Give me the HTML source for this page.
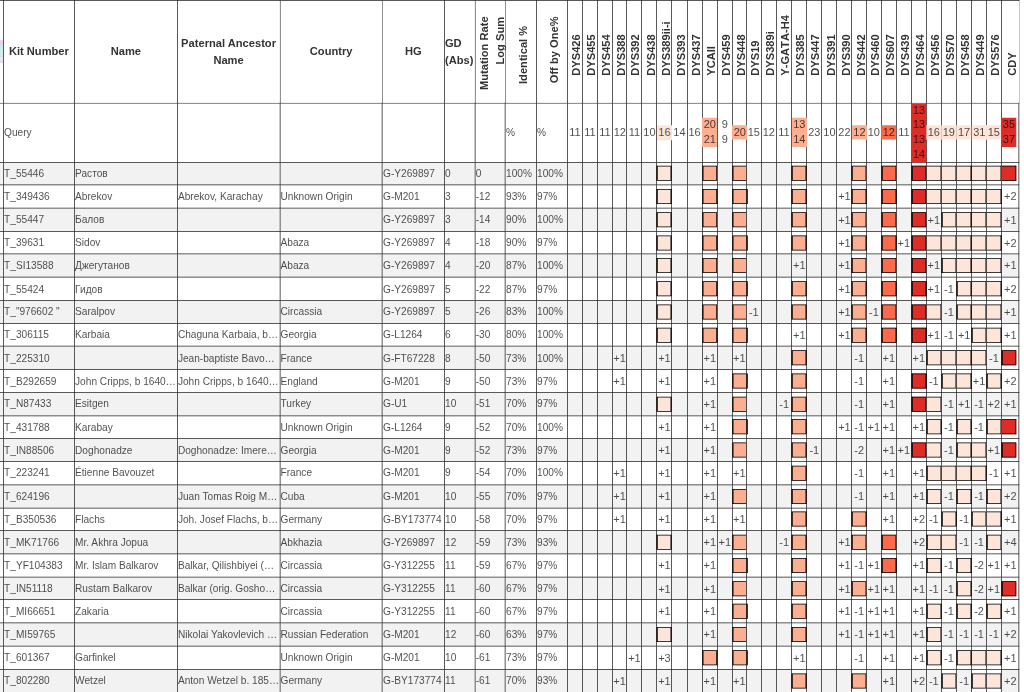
<!DOCTYPE html>
<html lang="en"><head><meta charset="utf-8">
<title>Y-STR match table</title>
<style>
html,body{margin:0;padding:0;background:#fff;}
body{width:1024px;height:692px;overflow:hidden;position:relative;font-family:"Liberation Sans",Arial,sans-serif;}
#wrap{position:absolute;left:0;top:0;width:1365.33px;height:922.67px;transform:scale(0.75);transform-origin:0 0;}
#edge{position:absolute;left:0;top:53.33px;width:3.87px;height:30.67px;z-index:2;
 background:linear-gradient(180deg,#ecd2f0 0,#ecd2f0 28%,#c9f1ef 28%,#c9f1ef 70%,#e2daf8 70%,#e2daf8 76%,#fbe2da 76%,#fbe2da 87%,#d9ecd9 87%,#d9ecd9 96%,#e2daf8 96%);}
table{position:absolute;left:-16.000px;top:0;width:1374.700px;border-collapse:collapse;table-layout:fixed;
 color:rgba(0,0,0,.7);font-size:13.500px;line-height:normal;}
th,td{border:1px solid #222;padding:0 0 0 0.4px;margin:0;overflow:hidden;white-space:nowrap;text-overflow:ellipsis;
 text-align:left;vertical-align:middle;font-weight:normal;box-sizing:border-box;}
thead th{font-weight:bold;font-size:14.850px;line-height:22.133px;color:#333;text-align:center;
 white-space:normal;background:#fff;position:relative;overflow:visible;height:136.667px;}
thead th{padding:0 1px 1px 1px;}
thead th.t2{padding-bottom:0.4px;}
thead th.l{text-align:left;padding-left:0.3px;}
thead th.r{padding:0;}
.rot{position:absolute;transform-origin:0 0;transform:rotate(-90deg);white-space:nowrap;line-height:21.333px;
 text-align:right;font-kerning:none;}
tr.q td{height:76.133px;background:#fff;}
tr.d td{height:30.743px;}
tr.g td{background:#f2f2f2;}
tbody tr:last-child td{border-bottom:0;height:32.743px;vertical-align:top;padding-top:7.3px;}
tbody tr:last-child td.m{padding-top:7.4px;}
tbody tr:last-child td.b{padding-top:5.2px;}
td.m{padding:0;text-align:center;font-size:14.667px;overflow:visible;}
tr.q td.m{line-height:19.467px;}
tr.q td.m div{width:19px;}
tr.q td.m div[class]{width:19.9px;margin-left:-0.45px;position:relative;}
td.b{background:#fff !important;}
td.b i{display:block;box-sizing:border-box;width:21px;height:20px;margin-left:-1px;border:1px solid #000;border-left-width:2px;border-right-width:2px;}
td.b i.n{width:20px;margin-left:0;border-left-width:0;}
td.b i.c{width:20.3px;border-right-width:1px;}
td.b i.c.n{width:19.3px;}
.h1{background:#fee5d9;}.h2{background:#fcae91;}.h3{background:#fb6a4a;}.h4{background:#de2d26;}
</style></head><body>
<div id="wrap">
<div id="edge"></div>
<table>
<colgroup><col style="width:20.033px"><col style="width:94.667px"><col style="width:137.133px"><col style="width:136.867px"><col style="width:136.667px"><col style="width:82.667px"><col style="width:40.800px"><col style="width:40.533px"><col style="width:41.333px"><col style="width:41.333px"><col style="width:20.000px"><col style="width:20.000px"><col style="width:20.000px"><col style="width:19.333px"><col style="width:20.200px"><col style="width:20.000px"><col style="width:19.933px"><col style="width:20.133px"><col style="width:20.400px"><col style="width:20.000px"><col style="width:20.000px"><col style="width:18.733px"><col style="width:19.933px"><col style="width:20.267px"><col style="width:20.333px"><col style="width:20.067px"><col style="width:20.200px"><col style="width:20.000px"><col style="width:20.067px"><col style="width:19.200px"><col style="width:20.000px"><col style="width:20.000px"><col style="width:20.000px"><col style="width:20.000px"><col style="width:19.933px"><col style="width:20.333px"><col style="width:20.267px"><col style="width:19.467px"><col style="width:20.080px"><col style="width:23.787px"></colgroup>
<thead><tr><th></th><th>Kit Number</th><th>Name</th><th class="t2">Paternal Ancestor Name</th><th>Country</th><th>HG</th><th class="l t2">GD (Abs)</th><th class="r"><span class="rot" style="left:1.27px;top:118.53px">Mutation Rate</span><span class="rot" style="left:22.80px;top:85.13px">Log Sum</span></th><th class="r"><span class="rot" style="left:13.34px;top:110.93px;">Identical %</span></th><th class="r"><span class="rot" style="left:13.07px;top:109.60px;">Off by One%</span></th><th class="r"><span class="rot" style="left:1.20px;top:100.40px;">DYS426</span></th><th class="r"><span class="rot" style="left:1.20px;top:100.40px;">DYS455</span></th><th class="r"><span class="rot" style="left:1.20px;top:100.40px;">DYS454</span></th><th class="r"><span class="rot" style="left:1.20px;top:100.40px;">DYS388</span></th><th class="r"><span class="rot" style="left:1.20px;top:100.40px;">DYS392</span></th><th class="r"><span class="rot" style="left:1.20px;top:100.40px;">DYS438</span></th><th class="r"><span class="rot" style="left:1.20px;top:100.40px;">DYS389ii-i</span></th><th class="r"><span class="rot" style="left:1.20px;top:100.40px;">DYS393</span></th><th class="r"><span class="rot" style="left:1.20px;top:100.40px;">DYS437</span></th><th class="r"><span class="rot" style="left:1.20px;top:100.40px;">YCAII</span></th><th class="r"><span class="rot" style="left:1.20px;top:100.40px;">DYS459</span></th><th class="r"><span class="rot" style="left:1.20px;top:100.40px;">DYS448</span></th><th class="r"><span class="rot" style="left:1.20px;top:100.40px;">DYS19</span></th><th class="r"><span class="rot" style="left:1.20px;top:100.40px;">DYS389i</span></th><th class="r"><span class="rot" style="left:1.20px;top:100.40px;">Y-GATA-H4</span></th><th class="r"><span class="rot" style="left:1.20px;top:100.40px;">DYS385</span></th><th class="r"><span class="rot" style="left:1.20px;top:100.40px;">DYS447</span></th><th class="r"><span class="rot" style="left:1.20px;top:100.40px;">DYS391</span></th><th class="r"><span class="rot" style="left:1.20px;top:100.40px;">DYS390</span></th><th class="r"><span class="rot" style="left:1.20px;top:100.40px;">DYS442</span></th><th class="r"><span class="rot" style="left:1.20px;top:100.40px;">DYS460</span></th><th class="r"><span class="rot" style="left:1.20px;top:100.40px;">DYS607</span></th><th class="r"><span class="rot" style="left:1.20px;top:100.40px;">DYS439</span></th><th class="r"><span class="rot" style="left:1.20px;top:100.40px;">DYS464</span></th><th class="r"><span class="rot" style="left:1.20px;top:100.40px;">DYS456</span></th><th class="r"><span class="rot" style="left:1.20px;top:100.40px;">DYS570</span></th><th class="r"><span class="rot" style="left:1.20px;top:100.40px;">DYS458</span></th><th class="r"><span class="rot" style="left:1.20px;top:100.40px;">DYS449</span></th><th class="r"><span class="rot" style="left:1.20px;top:100.40px;">DYS576</span></th><th class="r"><span class="rot" style="left:3.74px;top:100.40px;">CDY</span></th></tr></thead>
<tbody>
<tr class="q"><td></td><td>Query</td><td></td><td></td><td></td><td></td><td></td><td></td><td>%</td><td>%</td><td class="m"><div>11</div></td><td class="m"><div>11</div></td><td class="m"><div>11</div></td><td class="m"><div>12</div></td><td class="m"><div>11</div></td><td class="m"><div>10</div></td><td class="m"><div class="h1">16</div></td><td class="m"><div>14</div></td><td class="m"><div>16</div></td><td class="m"><div class="h2">20<br>21</div></td><td class="m"><div>9<br>9</div></td><td class="m"><div class="h2">20</div></td><td class="m"><div>15</div></td><td class="m"><div>12</div></td><td class="m"><div>11</div></td><td class="m"><div class="h2">13<br>14</div></td><td class="m"><div>23</div></td><td class="m"><div>10</div></td><td class="m"><div>22</div></td><td class="m"><div class="h2">12</div></td><td class="m"><div>10</div></td><td class="m"><div class="h3">12</div></td><td class="m"><div>11</div></td><td class="m"><div class="h4">13<br>13<br>13<br>14</div></td><td class="m"><div class="h1">16</div></td><td class="m"><div class="h1">19</div></td><td class="m"><div class="h1">17</div></td><td class="m"><div class="h1">31</div></td><td class="m"><div class="h1">15</div></td><td class="m"><div class="h4">35<br>37</div></td></tr>
<tr class="d g"><td></td><td>T_55446</td><td>Растов</td><td></td><td></td><td>G-Y269897</td><td>0</td><td>0</td><td>100%</td><td>100%</td><td class="m"></td><td class="m"></td><td class="m"></td><td class="m"></td><td class="m"></td><td class="m"></td><td class="m b"><i class="h1"></i></td><td class="m"></td><td class="m"></td><td class="m b"><i class="h2"></i></td><td class="m"></td><td class="m b"><i class="h2"></i></td><td class="m"></td><td class="m"></td><td class="m"></td><td class="m b"><i class="h2"></i></td><td class="m"></td><td class="m"></td><td class="m"></td><td class="m b"><i class="h2"></i></td><td class="m"></td><td class="m b"><i class="h3"></i></td><td class="m"></td><td class="m b"><i class="h4"></i></td><td class="m b"><i class="h1 n"></i></td><td class="m b"><i class="h1 n"></i></td><td class="m b"><i class="h1 n"></i></td><td class="m b"><i class="h1 n"></i></td><td class="m b"><i class="h1 n"></i></td><td class="m b"><i class="h4 n c"></i></td></tr>
<tr class="d"><td></td><td>T_349436</td><td>Abrekov</td><td>Abrekov, Karachay</td><td>Unknown Origin</td><td>G-M201</td><td>3</td><td>-12</td><td>93%</td><td>97%</td><td class="m"></td><td class="m"></td><td class="m"></td><td class="m"></td><td class="m"></td><td class="m"></td><td class="m b"><i class="h1"></i></td><td class="m"></td><td class="m"></td><td class="m b"><i class="h2"></i></td><td class="m"></td><td class="m b"><i class="h2"></i></td><td class="m"></td><td class="m"></td><td class="m"></td><td class="m b"><i class="h2"></i></td><td class="m"></td><td class="m"></td><td class="m">+1</td><td class="m b"><i class="h2"></i></td><td class="m"></td><td class="m b"><i class="h3"></i></td><td class="m"></td><td class="m b"><i class="h4"></i></td><td class="m b"><i class="h1 n"></i></td><td class="m b"><i class="h1 n"></i></td><td class="m b"><i class="h1 n"></i></td><td class="m b"><i class="h1 n"></i></td><td class="m b"><i class="h1 n"></i></td><td class="m">+2</td></tr>
<tr class="d g"><td></td><td>T_55447</td><td>Балов</td><td></td><td></td><td>G-Y269897</td><td>3</td><td>-14</td><td>90%</td><td>100%</td><td class="m"></td><td class="m"></td><td class="m"></td><td class="m"></td><td class="m"></td><td class="m"></td><td class="m b"><i class="h1"></i></td><td class="m"></td><td class="m"></td><td class="m b"><i class="h2"></i></td><td class="m"></td><td class="m b"><i class="h2"></i></td><td class="m"></td><td class="m"></td><td class="m"></td><td class="m b"><i class="h2"></i></td><td class="m"></td><td class="m"></td><td class="m">+1</td><td class="m b"><i class="h2"></i></td><td class="m"></td><td class="m b"><i class="h3"></i></td><td class="m"></td><td class="m b"><i class="h4"></i></td><td class="m">+1</td><td class="m b"><i class="h1"></i></td><td class="m b"><i class="h1 n"></i></td><td class="m b"><i class="h1 n"></i></td><td class="m b"><i class="h1 n"></i></td><td class="m">+1</td></tr>
<tr class="d"><td></td><td>T_39631</td><td>Sidov</td><td></td><td>Abaza</td><td>G-Y269897</td><td>4</td><td>-18</td><td>90%</td><td>97%</td><td class="m"></td><td class="m"></td><td class="m"></td><td class="m"></td><td class="m"></td><td class="m"></td><td class="m b"><i class="h1"></i></td><td class="m"></td><td class="m"></td><td class="m b"><i class="h2"></i></td><td class="m"></td><td class="m b"><i class="h2"></i></td><td class="m"></td><td class="m"></td><td class="m"></td><td class="m b"><i class="h2"></i></td><td class="m"></td><td class="m"></td><td class="m">+1</td><td class="m b"><i class="h2"></i></td><td class="m"></td><td class="m b"><i class="h3"></i></td><td class="m">+1</td><td class="m b"><i class="h4"></i></td><td class="m b"><i class="h1 n"></i></td><td class="m b"><i class="h1 n"></i></td><td class="m b"><i class="h1 n"></i></td><td class="m b"><i class="h1 n"></i></td><td class="m b"><i class="h1 n"></i></td><td class="m">+2</td></tr>
<tr class="d g"><td></td><td>T_SI13588</td><td>Джегутанов</td><td></td><td>Abaza</td><td>G-Y269897</td><td>4</td><td>-20</td><td>87%</td><td>100%</td><td class="m"></td><td class="m"></td><td class="m"></td><td class="m"></td><td class="m"></td><td class="m"></td><td class="m b"><i class="h1"></i></td><td class="m"></td><td class="m"></td><td class="m b"><i class="h2"></i></td><td class="m"></td><td class="m b"><i class="h2"></i></td><td class="m"></td><td class="m"></td><td class="m"></td><td class="m">+1</td><td class="m"></td><td class="m"></td><td class="m">+1</td><td class="m b"><i class="h2"></i></td><td class="m"></td><td class="m b"><i class="h3"></i></td><td class="m"></td><td class="m b"><i class="h4"></i></td><td class="m">+1</td><td class="m b"><i class="h1"></i></td><td class="m b"><i class="h1 n"></i></td><td class="m b"><i class="h1 n"></i></td><td class="m b"><i class="h1 n"></i></td><td class="m">+1</td></tr>
<tr class="d"><td></td><td>T_55424</td><td>Гидов</td><td></td><td></td><td>G-Y269897</td><td>5</td><td>-22</td><td>87%</td><td>97%</td><td class="m"></td><td class="m"></td><td class="m"></td><td class="m"></td><td class="m"></td><td class="m"></td><td class="m b"><i class="h1"></i></td><td class="m"></td><td class="m"></td><td class="m b"><i class="h2"></i></td><td class="m"></td><td class="m b"><i class="h2"></i></td><td class="m"></td><td class="m"></td><td class="m"></td><td class="m b"><i class="h2"></i></td><td class="m"></td><td class="m"></td><td class="m">+1</td><td class="m b"><i class="h2"></i></td><td class="m"></td><td class="m b"><i class="h3"></i></td><td class="m"></td><td class="m b"><i class="h4"></i></td><td class="m">+1</td><td class="m">-1</td><td class="m b"><i class="h1"></i></td><td class="m b"><i class="h1 n"></i></td><td class="m b"><i class="h1 n"></i></td><td class="m">+2</td></tr>
<tr class="d g"><td></td><td>T_"976602 "</td><td>Saralpov</td><td></td><td>Circassia</td><td>G-Y269897</td><td>5</td><td>-26</td><td>83%</td><td>100%</td><td class="m"></td><td class="m"></td><td class="m"></td><td class="m"></td><td class="m"></td><td class="m"></td><td class="m b"><i class="h1"></i></td><td class="m"></td><td class="m"></td><td class="m b"><i class="h2"></i></td><td class="m"></td><td class="m b"><i class="h2"></i></td><td class="m">-1</td><td class="m"></td><td class="m"></td><td class="m b"><i class="h2"></i></td><td class="m"></td><td class="m"></td><td class="m">+1</td><td class="m b"><i class="h2"></i></td><td class="m">-1</td><td class="m b"><i class="h3"></i></td><td class="m"></td><td class="m b"><i class="h4"></i></td><td class="m b"><i class="h1 n"></i></td><td class="m">-1</td><td class="m b"><i class="h1"></i></td><td class="m b"><i class="h1 n"></i></td><td class="m b"><i class="h1 n"></i></td><td class="m">+1</td></tr>
<tr class="d"><td></td><td>T_306115</td><td>Karbaia</td><td>Chaguna Karbaia, b. 1790, Samegrelo</td><td>Georgia</td><td>G-L1264</td><td>6</td><td>-30</td><td>80%</td><td>100%</td><td class="m"></td><td class="m"></td><td class="m"></td><td class="m"></td><td class="m"></td><td class="m"></td><td class="m b"><i class="h1"></i></td><td class="m"></td><td class="m"></td><td class="m b"><i class="h2"></i></td><td class="m"></td><td class="m b"><i class="h2"></i></td><td class="m"></td><td class="m"></td><td class="m"></td><td class="m">+1</td><td class="m"></td><td class="m"></td><td class="m">+1</td><td class="m b"><i class="h2"></i></td><td class="m"></td><td class="m b"><i class="h3"></i></td><td class="m"></td><td class="m b"><i class="h4"></i></td><td class="m">+1</td><td class="m">-1</td><td class="m">+1</td><td class="m b"><i class="h1"></i></td><td class="m b"><i class="h1 n"></i></td><td class="m">+1</td></tr>
<tr class="d g"><td></td><td>T_225310</td><td></td><td>Jean-baptiste Bavouzet, b. 1750</td><td>France</td><td>G-FT67228</td><td>8</td><td>-50</td><td>73%</td><td>100%</td><td class="m"></td><td class="m"></td><td class="m"></td><td class="m">+1</td><td class="m"></td><td class="m"></td><td class="m">+1</td><td class="m"></td><td class="m"></td><td class="m">+1</td><td class="m"></td><td class="m">+1</td><td class="m"></td><td class="m"></td><td class="m"></td><td class="m b"><i class="h2"></i></td><td class="m"></td><td class="m"></td><td class="m"></td><td class="m">-1</td><td class="m"></td><td class="m">+1</td><td class="m"></td><td class="m">+1</td><td class="m b"><i class="h1"></i></td><td class="m b"><i class="h1 n"></i></td><td class="m b"><i class="h1 n"></i></td><td class="m b"><i class="h1 n"></i></td><td class="m">-1</td><td class="m b"><i class="h4 c"></i></td></tr>
<tr class="d"><td></td><td>T_B292659</td><td>John Cripps, b 1640, Kent</td><td>John Cripps, b 1640, Kent</td><td>England</td><td>G-M201</td><td>9</td><td>-50</td><td>73%</td><td>97%</td><td class="m"></td><td class="m"></td><td class="m"></td><td class="m">+1</td><td class="m"></td><td class="m"></td><td class="m">+1</td><td class="m"></td><td class="m"></td><td class="m">+1</td><td class="m"></td><td class="m b"><i class="h2"></i></td><td class="m"></td><td class="m"></td><td class="m"></td><td class="m b"><i class="h2"></i></td><td class="m"></td><td class="m"></td><td class="m"></td><td class="m">-1</td><td class="m"></td><td class="m">+1</td><td class="m"></td><td class="m b"><i class="h4"></i></td><td class="m">-1</td><td class="m b"><i class="h1"></i></td><td class="m b"><i class="h1 n"></i></td><td class="m">+1</td><td class="m b"><i class="h1"></i></td><td class="m">+2</td></tr>
<tr class="d g"><td></td><td>T_N87433</td><td>Esitgen</td><td></td><td>Turkey</td><td>G-U1</td><td>10</td><td>-51</td><td>70%</td><td>97%</td><td class="m"></td><td class="m"></td><td class="m"></td><td class="m"></td><td class="m"></td><td class="m"></td><td class="m b"><i class="h1"></i></td><td class="m"></td><td class="m"></td><td class="m">+1</td><td class="m"></td><td class="m b"><i class="h2"></i></td><td class="m"></td><td class="m"></td><td class="m">-1</td><td class="m b"><i class="h2"></i></td><td class="m"></td><td class="m"></td><td class="m"></td><td class="m">-1</td><td class="m"></td><td class="m">+1</td><td class="m"></td><td class="m b"><i class="h4"></i></td><td class="m b"><i class="h1 n"></i></td><td class="m">-1</td><td class="m">+1</td><td class="m">-1</td><td class="m">+2</td><td class="m">+1</td></tr>
<tr class="d"><td></td><td>T_431788</td><td>Karabay</td><td></td><td>Unknown Origin</td><td>G-L1264</td><td>9</td><td>-52</td><td>70%</td><td>100%</td><td class="m"></td><td class="m"></td><td class="m"></td><td class="m"></td><td class="m"></td><td class="m"></td><td class="m">+1</td><td class="m"></td><td class="m"></td><td class="m">+1</td><td class="m"></td><td class="m b"><i class="h2"></i></td><td class="m"></td><td class="m"></td><td class="m"></td><td class="m b"><i class="h2"></i></td><td class="m"></td><td class="m"></td><td class="m">+1</td><td class="m">-1</td><td class="m">+1</td><td class="m">+1</td><td class="m"></td><td class="m">+1</td><td class="m b"><i class="h1"></i></td><td class="m">-1</td><td class="m b"><i class="h1"></i></td><td class="m">-1</td><td class="m b"><i class="h1"></i></td><td class="m b"><i class="h4 n c"></i></td></tr>
<tr class="d g"><td></td><td>T_IN88506</td><td>Doghonadze</td><td>Doghonadze: Imereti, Georgia</td><td>Georgia</td><td>G-M201</td><td>9</td><td>-52</td><td>73%</td><td>97%</td><td class="m"></td><td class="m"></td><td class="m"></td><td class="m"></td><td class="m"></td><td class="m"></td><td class="m">+1</td><td class="m"></td><td class="m"></td><td class="m">+1</td><td class="m"></td><td class="m b"><i class="h2"></i></td><td class="m"></td><td class="m"></td><td class="m"></td><td class="m b"><i class="h2"></i></td><td class="m">-1</td><td class="m"></td><td class="m"></td><td class="m">-2</td><td class="m"></td><td class="m">+1</td><td class="m">+1</td><td class="m b"><i class="h4"></i></td><td class="m b"><i class="h1 n"></i></td><td class="m">-1</td><td class="m b"><i class="h1"></i></td><td class="m b"><i class="h1 n"></i></td><td class="m">+1</td><td class="m b"><i class="h4 c"></i></td></tr>
<tr class="d"><td></td><td>T_223241</td><td>Étienne Bavouzet</td><td></td><td>France</td><td>G-M201</td><td>9</td><td>-54</td><td>70%</td><td>100%</td><td class="m"></td><td class="m"></td><td class="m"></td><td class="m">+1</td><td class="m"></td><td class="m"></td><td class="m">+1</td><td class="m"></td><td class="m"></td><td class="m">+1</td><td class="m"></td><td class="m">+1</td><td class="m"></td><td class="m"></td><td class="m"></td><td class="m b"><i class="h2"></i></td><td class="m"></td><td class="m"></td><td class="m"></td><td class="m">-1</td><td class="m"></td><td class="m">+1</td><td class="m"></td><td class="m">+1</td><td class="m b"><i class="h1"></i></td><td class="m b"><i class="h1 n"></i></td><td class="m b"><i class="h1 n"></i></td><td class="m b"><i class="h1 n"></i></td><td class="m">-1</td><td class="m">+1</td></tr>
<tr class="d g"><td></td><td>T_624196</td><td></td><td>Juan Tomas Roig Marti, b. 1820</td><td>Cuba</td><td>G-M201</td><td>10</td><td>-55</td><td>70%</td><td>97%</td><td class="m"></td><td class="m"></td><td class="m"></td><td class="m">+1</td><td class="m"></td><td class="m"></td><td class="m">+1</td><td class="m"></td><td class="m"></td><td class="m">+1</td><td class="m"></td><td class="m b"><i class="h2"></i></td><td class="m"></td><td class="m"></td><td class="m"></td><td class="m b"><i class="h2"></i></td><td class="m"></td><td class="m"></td><td class="m"></td><td class="m">-1</td><td class="m"></td><td class="m">+1</td><td class="m"></td><td class="m">+1</td><td class="m b"><i class="h1"></i></td><td class="m">-1</td><td class="m b"><i class="h1"></i></td><td class="m">-1</td><td class="m b"><i class="h1"></i></td><td class="m">+2</td></tr>
<tr class="d"><td></td><td>T_B350536</td><td>Flachs</td><td>Joh. Josef Flachs, b. 1769</td><td>Germany</td><td>G-BY173774</td><td>10</td><td>-58</td><td>70%</td><td>97%</td><td class="m"></td><td class="m"></td><td class="m"></td><td class="m">+1</td><td class="m"></td><td class="m"></td><td class="m">+1</td><td class="m"></td><td class="m"></td><td class="m">+1</td><td class="m"></td><td class="m">+1</td><td class="m"></td><td class="m"></td><td class="m"></td><td class="m b"><i class="h2"></i></td><td class="m"></td><td class="m"></td><td class="m"></td><td class="m b"><i class="h2"></i></td><td class="m"></td><td class="m">+1</td><td class="m"></td><td class="m">+2</td><td class="m">-1</td><td class="m b"><i class="h1"></i></td><td class="m">-1</td><td class="m b"><i class="h1"></i></td><td class="m b"><i class="h1 n"></i></td><td class="m">+1</td></tr>
<tr class="d g"><td></td><td>T_MK71766</td><td>Mr. Akhra Jopua</td><td></td><td>Abkhazia</td><td>G-Y269897</td><td>12</td><td>-59</td><td>73%</td><td>93%</td><td class="m"></td><td class="m"></td><td class="m"></td><td class="m"></td><td class="m"></td><td class="m"></td><td class="m b"><i class="h1"></i></td><td class="m"></td><td class="m"></td><td class="m">+1</td><td class="m">+1</td><td class="m b"><i class="h2"></i></td><td class="m"></td><td class="m"></td><td class="m">-1</td><td class="m b"><i class="h2"></i></td><td class="m"></td><td class="m"></td><td class="m">+1</td><td class="m b"><i class="h2"></i></td><td class="m"></td><td class="m b"><i class="h3"></i></td><td class="m"></td><td class="m">+2</td><td class="m b"><i class="h1"></i></td><td class="m b"><i class="h1 n"></i></td><td class="m">-1</td><td class="m">-1</td><td class="m b"><i class="h1"></i></td><td class="m">+4</td></tr>
<tr class="d"><td></td><td>T_YF104383</td><td>Mr. Islam Balkarov</td><td>Balkar, Qilishbiyei (Kabarda)</td><td>Circassia</td><td>G-Y312255</td><td>11</td><td>-59</td><td>67%</td><td>97%</td><td class="m"></td><td class="m"></td><td class="m"></td><td class="m"></td><td class="m"></td><td class="m"></td><td class="m">+1</td><td class="m"></td><td class="m"></td><td class="m">+1</td><td class="m"></td><td class="m b"><i class="h2"></i></td><td class="m"></td><td class="m"></td><td class="m"></td><td class="m b"><i class="h2"></i></td><td class="m"></td><td class="m"></td><td class="m">+1</td><td class="m">-1</td><td class="m">+1</td><td class="m b"><i class="h3"></i></td><td class="m"></td><td class="m">+1</td><td class="m b"><i class="h1"></i></td><td class="m">-1</td><td class="m b"><i class="h1"></i></td><td class="m">-2</td><td class="m">+1</td><td class="m">+1</td></tr>
<tr class="d g"><td></td><td>T_IN51118</td><td>Rustam Balkarov</td><td>Balkar (orig. Goshomakhov)</td><td>Circassia</td><td>G-Y312255</td><td>11</td><td>-60</td><td>67%</td><td>97%</td><td class="m"></td><td class="m"></td><td class="m"></td><td class="m"></td><td class="m"></td><td class="m"></td><td class="m">+1</td><td class="m"></td><td class="m"></td><td class="m">+1</td><td class="m"></td><td class="m b"><i class="h2"></i></td><td class="m"></td><td class="m"></td><td class="m"></td><td class="m b"><i class="h2"></i></td><td class="m"></td><td class="m"></td><td class="m">+1</td><td class="m b"><i class="h2"></i></td><td class="m">+1</td><td class="m">+1</td><td class="m"></td><td class="m">+1</td><td class="m">-1</td><td class="m">-1</td><td class="m b"><i class="h1"></i></td><td class="m">-2</td><td class="m">+1</td><td class="m b"><i class="h4 c"></i></td></tr>
<tr class="d"><td></td><td>T_MI66651</td><td>Zakaria</td><td></td><td>Circassia</td><td>G-Y312255</td><td>11</td><td>-60</td><td>67%</td><td>97%</td><td class="m"></td><td class="m"></td><td class="m"></td><td class="m"></td><td class="m"></td><td class="m"></td><td class="m">+1</td><td class="m"></td><td class="m"></td><td class="m">+1</td><td class="m"></td><td class="m b"><i class="h2"></i></td><td class="m"></td><td class="m"></td><td class="m"></td><td class="m b"><i class="h2"></i></td><td class="m"></td><td class="m"></td><td class="m">+1</td><td class="m">-1</td><td class="m">+1</td><td class="m">+1</td><td class="m"></td><td class="m">+1</td><td class="m b"><i class="h1"></i></td><td class="m">-1</td><td class="m b"><i class="h1"></i></td><td class="m">-2</td><td class="m b"><i class="h1"></i></td><td class="m">+1</td></tr>
<tr class="d g"><td></td><td>T_MI59765</td><td></td><td>Nikolai Yakovlevich Makarov</td><td>Russian Federation</td><td>G-M201</td><td>12</td><td>-60</td><td>63%</td><td>97%</td><td class="m"></td><td class="m"></td><td class="m"></td><td class="m"></td><td class="m"></td><td class="m"></td><td class="m b"><i class="h1"></i></td><td class="m"></td><td class="m"></td><td class="m">+1</td><td class="m"></td><td class="m b"><i class="h2"></i></td><td class="m"></td><td class="m"></td><td class="m"></td><td class="m b"><i class="h2"></i></td><td class="m"></td><td class="m"></td><td class="m">+1</td><td class="m">-1</td><td class="m">+1</td><td class="m">+1</td><td class="m"></td><td class="m">+1</td><td class="m b"><i class="h1"></i></td><td class="m">-1</td><td class="m">-1</td><td class="m">-1</td><td class="m">-1</td><td class="m">+2</td></tr>
<tr class="d"><td></td><td>T_601367</td><td>Garfinkel</td><td></td><td>Unknown Origin</td><td>G-M201</td><td>10</td><td>-61</td><td>73%</td><td>97%</td><td class="m"></td><td class="m"></td><td class="m"></td><td class="m"></td><td class="m">+1</td><td class="m"></td><td class="m">+3</td><td class="m"></td><td class="m"></td><td class="m b"><i class="h2"></i></td><td class="m"></td><td class="m b"><i class="h2"></i></td><td class="m"></td><td class="m"></td><td class="m"></td><td class="m">+1</td><td class="m"></td><td class="m"></td><td class="m"></td><td class="m">-1</td><td class="m"></td><td class="m">+1</td><td class="m"></td><td class="m">+1</td><td class="m b"><i class="h1"></i></td><td class="m">-1</td><td class="m b"><i class="h1"></i></td><td class="m b"><i class="h1 n"></i></td><td class="m b"><i class="h1 n"></i></td><td class="m">+1</td></tr>
<tr class="d g"><td></td><td>T_802280</td><td>Wetzel</td><td>Anton Wetzel b. 1850, Hessen</td><td>Germany</td><td>G-BY173774</td><td>11</td><td>-61</td><td>70%</td><td>93%</td><td class="m"></td><td class="m"></td><td class="m"></td><td class="m">+1</td><td class="m"></td><td class="m"></td><td class="m">+1</td><td class="m"></td><td class="m"></td><td class="m">+1</td><td class="m"></td><td class="m">+1</td><td class="m"></td><td class="m"></td><td class="m"></td><td class="m b"><i class="h2"></i></td><td class="m"></td><td class="m"></td><td class="m"></td><td class="m b"><i class="h2"></i></td><td class="m"></td><td class="m">+1</td><td class="m"></td><td class="m">+2</td><td class="m">-1</td><td class="m b"><i class="h1"></i></td><td class="m">-1</td><td class="m b"><i class="h1"></i></td><td class="m b"><i class="h1 n"></i></td><td class="m">+2</td></tr>
</tbody></table>
</div>
</body></html>
